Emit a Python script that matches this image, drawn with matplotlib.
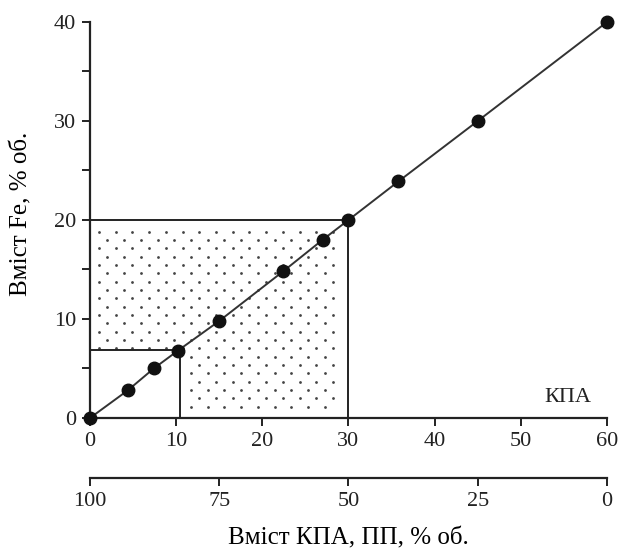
import numpy as np
import matplotlib
matplotlib.use('Agg')
import matplotlib.pyplot as plt

# дані
kpa = [0, 4.4, 7.4, 10.2, 15, 22.4, 27, 30, 35.8, 45, 60]
fe = [0, 2.8, 5.0, 6.8, 9.8, 14.8, 18.0, 20, 23.9, 30, 40]
# межі зон
zona_x = [30, 10.4]
zona_y = [20, 6.9]
x_ticks = [0, 10, 20, 30, 40, 50, 60]
y_ticks = [0, 10, 20, 30, 40]
pp_ticks = [100, 75, 50, 25, 0]

plt.rcParams['font.family'] = ['Liberation Serif', 'DejaVu Serif']
plt.rcParams['font.size'] = 16

fig = plt.figure(figsize=(6.18, 5.51), dpi=100)
ax = fig.add_axes([0.1456, 0.2414, 0.8366, 0.7187])

# крапчасте заповнення зони
xs = np.arange(1.05, zona_x[0] - 1.0, 1.94)
ys = np.arange(18.8, 1.0, -0.84)
px, py = [], []
for i, yy in enumerate(ys):
    shift = 0 if i % 2 == 0 else 0.97
    for xx in xs + shift:
        if xx > zona_x[0] - 1.2:
            continue
        if xx < zona_x[1] + 0.4 and yy < zona_y[1]:
            continue
        px.append(xx)
        py.append(yy)
ax.scatter(px, py, s=4, color='#444444', linewidths=0, zorder=1)

# лінії зон
for zx, zy in zip(zona_x, zona_y):
    ax.plot([0, zx, zx], [zy, zy, 0], color='#222222', lw=1.4, zorder=2)

ax.plot(kpa, fe, color='#333333', lw=1.4, zorder=3)
ax.plot(kpa, fe, 'o', color='#111111', ms=9, zorder=4, clip_on=False)

ax.set_xlim(0, 60)
ax.set_ylim(0, 40)
ax.set_xticks(x_ticks)
ax.set_yticks(y_ticks)
ax.set_yticks([5, 15, 25, 35], minor=True)
for s in ['top', 'right']:
    ax.spines[s].set_visible(False)
for s in ['left', 'bottom']:
    ax.spines[s].set_linewidth(1.6)
    ax.spines[s].set_color('#222222')
ax.tick_params(axis='both', which='major', length=6, width=1.4, direction='out', pad=4, colors='#222222')
ax.tick_params(axis='y', which='minor', length=6, width=1.4, direction='out', colors='#222222')
ax.set_ylabel('Вміст Fe, % об.', fontsize=18)
ax.yaxis.set_label_coords(-0.112, 0.515)

ax.text(55.5, 2.1, 'КПА', ha='center', va='center', fontsize=16, color='#222222')

sec = ax.secondary_xaxis(-0.1515, functions=(lambda x: 100 - x * 5 / 3, lambda p: (100 - p) * 3 / 5))
sec.set_xticks(pp_ticks)
sec.spines['bottom'].set_linewidth(1.6)
sec.spines['bottom'].set_color('#222222')
sec.tick_params(axis='x', length=6, width=1.4, direction='out', pad=4, colors='#222222')
sec.set_xlabel('Вміст КПА, ПП, % об.', fontsize=18, labelpad=12)

fig.savefig('out.png', dpi=100, facecolor='white')
